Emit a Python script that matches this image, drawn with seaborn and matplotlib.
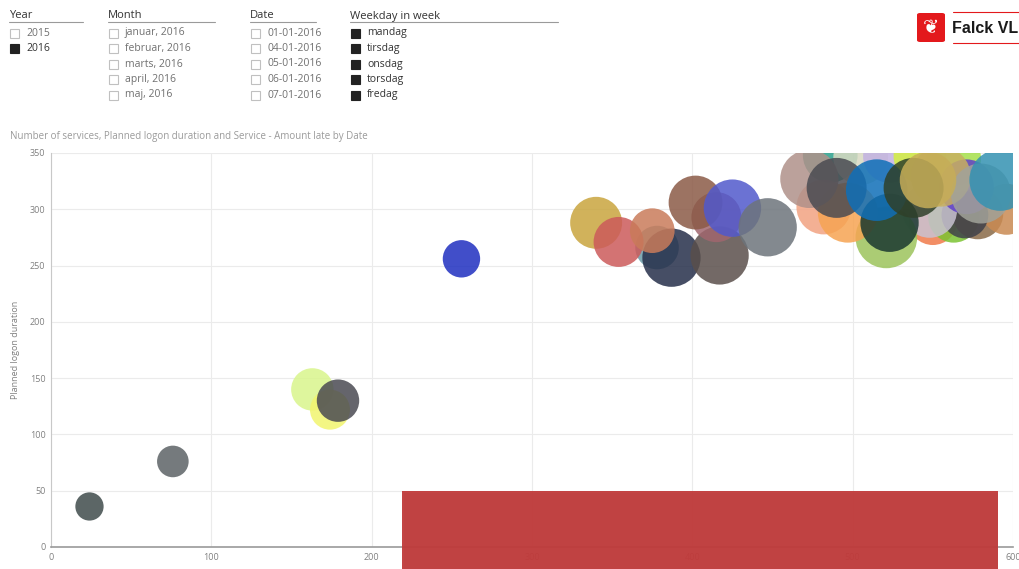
import matplotlib.pyplot as plt
import matplotlib.patches as mpatches
import pandas as pd
import seaborn as sns

# Bubble data (one bubble per date)
amount_late = [24, 76, 163, 174, 179, 256,
               340, 378, 387, 354, 375, 417, 415, 402, 425, 447,
               486, 505, 523, 542, 563, 550, 563, 578, 596, 570, 548, 571,
               555, 580, 592, 521, 482, 497, 523, 473, 490, 515, 538, 547]
logon_duration = [36, 76, 140, 122, 130, 256,
                  288, 266, 257, 271, 281, 259, 293, 306, 301, 284,
                  348, 346, 347, 347, 345, 290, 293, 296, 300, 295, 299, 320,
                  329, 314, 326, 275, 302, 297, 288, 327, 319, 317, 319, 326]
services = [8, 10, 18, 16, 18, 14,
            27, 19, 34, 25, 20, 34, 25, 29, 33, 34,
            30, 30, 28, 28, 30, 24, 26, 26, 26, 22, 30, 30,
            36, 36, 38, 38, 30, 36, 34, 34, 36, 38, 36, 32]
bubble_colors = ['#3f4b4b', '#5d6366', '#d9f58c', '#f2f56e', '#4a4a52', '#1f2fc0',
                 '#c9a53e', '#6b9ba8', '#262f4a', '#cc5a5a', '#c97b5a', '#5a4f4b',
                 '#a0666e', '#8b5a47', '#5159cc', '#6d747b',
                 '#2aa08c', '#d9dac2', '#c2b2e2', '#d4f040', '#a6e04a', '#f07a4a',
                 '#7cc432', '#8a6a48', '#c98a52', '#40414a', '#c9c2d2', '#6040c8',
                 '#c8b060', '#a2a39a', '#3492b2', '#9cc45c', '#f2a282', '#f6a452',
                 '#1a3830', '#b0918a', '#4a4b52', '#0f6fb8', '#2f4029', '#c6ad58']
dates = [f'date_{i:02d}' for i in range(len(services))]

year_items = ['2015', '2016']
year_checked = [False, True]
month_items = ['januar, 2016', 'februar, 2016', 'marts, 2016', 'april, 2016', 'maj, 2016']
date_items = ['01-01-2016', '04-01-2016', '05-01-2016', '06-01-2016', '07-01-2016']
weekday_items = ['mandag', 'tirsdag', 'onsdag', 'torsdag', 'fredag']

x_ticks = [0, 100, 200, 300, 400, 500, 600]
y_ticks = [0, 50, 100, 150, 200, 250, 300, 350]

df = pd.DataFrame({'date': dates, 'late': amount_late,
                   'logon': logon_duration, 'services': services})

sns.set_style('white')
plt.rcParams['font.family'] = ['Open Sans', 'DejaVu Sans']

W, H = 1020, 569
fig = plt.figure(figsize=(W / 100, H / 100), dpi=100)


def fx(px):
    return px / W


def fy(py):
    return 1 - py / H


ax = fig.add_axes([fx(51), fy(547), fx(1013) - fx(51), fy(153) - fy(547)])

# area per service unit, so a 40-service bubble is ~63 px wide
max_area = (63.2 * 0.72) ** 2
sns.scatterplot(data=df, x='late', y='logon', size='services',
                sizes=(0, max_area), size_norm=(0, 40),
                hue='date', palette=dict(zip(dates, bubble_colors)),
                alpha=0.85, linewidth=0, legend=False, ax=ax)

ax.set_xlim(0, 600)
ax.set_ylim(0, 350)
ax.set_xticks(x_ticks)
ax.set_yticks(y_ticks)
ax.grid(True, color='#ebebeb', linewidth=0.8)
ax.set_axisbelow(True)
ax.tick_params(length=0, labelsize=6.5, labelcolor='#808080', pad=4)
ax.set_xlabel('')
ax.set_ylabel('Planned logon duration', fontsize=6.5, color='#808080', labelpad=7)
for side in ['top', 'right']:
    ax.spines[side].set_visible(False)
ax.spines['left'].set_color('#c8c8c8')
ax.spines['left'].set_linewidth(0.8)
ax.spines['bottom'].set_color('#9a9a9a')
ax.spines['bottom'].set_linewidth(1.2)

fig.text(fx(10), fy(137), 'Number of services, Planned logon duration and Service - Amount late by Date',
         fontsize=7, color='#9a9a9a', va='center')


# filter panel at the top
def filter_group(x0, x1, title, items, checked):
    fig.text(fx(x0), fy(16), title, fontsize=8, color='#333333', va='center')
    fig.add_artist(plt.Line2D([fx(x0), fx(x1)], [fy(22), fy(22)], color='#9a9a9a', lw=0.8))
    for i, (label, on) in enumerate(zip(items, checked)):
        yc = 33 + i * 15.5
        box = mpatches.Rectangle((fx(x0 + 1), fy(yc + 4.5)), fx(9), 9 / H,
                                 transform=fig.transFigure,
                                 facecolor='#222222' if on else 'white',
                                 edgecolor='#222222' if on else '#c0c0c0', lw=0.8)
        fig.add_artist(box)
        fig.text(fx(x0 + 17), fy(yc), label, fontsize=7.5,
                 color='#333333' if on else '#707070', va='center')


filter_group(9, 83, 'Year', year_items, year_checked)
filter_group(108, 215, 'Month', month_items, [False] * len(month_items))
filter_group(250, 316, 'Date', date_items, [False] * len(date_items))
filter_group(350, 558, 'Weekday in week', weekday_items, [True] * len(weekday_items))

# logo
fig.add_artist(mpatches.FancyBboxPatch((fx(917), fy(42)), fx(28), 29 / H,
                                       boxstyle='round,pad=0,rounding_size=0.003',
                                       transform=fig.transFigure,
                                       facecolor='#e3191c', edgecolor='none'))
fig.text(fx(931), fy(28), '\u2766', fontsize=14, color='white', ha='center', va='center',
         family=['DejaVu Sans'])
fig.text(fx(952), fy(28.5), 'Falck VL', fontsize=11.5, fontweight='bold', color='#1a1a1a',
         va='center', family=['Liberation Sans', 'DejaVu Sans'])
for yl in (12, 43):
    fig.add_artist(plt.Line2D([fx(953), fx(1020)], [fy(yl), fy(yl)], color='#e3191c', lw=0.8))

# red caption overlay at the bottom
fig.add_artist(mpatches.Rectangle((fx(404), 0), fx(598) - fx(4), fy(493),
                                  transform=fig.transFigure, facecolor='#808080',
                                  edgecolor='none', alpha=0.35))
fig.add_artist(mpatches.Rectangle((fx(402), 0), fx(596), fy(491),
                                  transform=fig.transFigure, facecolor='#c03a3a',
                                  edgecolor='none', alpha=0.95))

fig.savefig('out.png', dpi=100)
